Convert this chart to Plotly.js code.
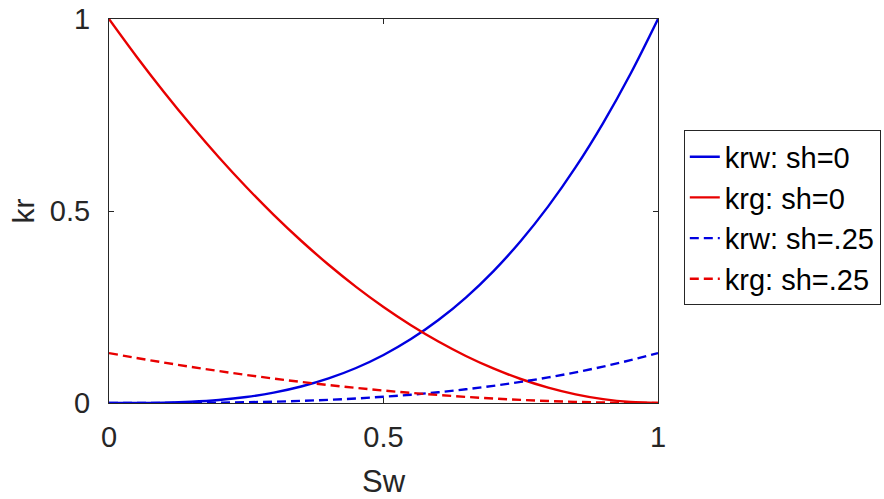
<!DOCTYPE html>
<html>
<head>
<meta charset="utf-8">
<script src="https://cdn.plot.ly/plotly-3.0.1.min.js"></script>
<style>html,body{margin:0;padding:0;background:#fff;}#chart{width:884px;height:499px;}</style>
</head>
<body>
<div id="chart"></div>
<script>
// Water saturation samples
const sw = [0, 0.05, 0.1, 0.15, 0.2, 0.25, 0.3, 0.35, 0.4, 0.45, 0.5, 0.55, 0.6, 0.65, 0.7, 0.75, 0.8, 0.85, 0.9, 0.95, 1];
// Values
const krwSh0 = [0, 0.0001, 0.001, 0.0034, 0.008, 0.0156, 0.027, 0.0429, 0.064, 0.0911, 0.125, 0.1664, 0.216, 0.2746, 0.343, 0.4219, 0.512, 0.6141, 0.729, 0.8574, 1];
const krgSh0 = [1, 0.9025, 0.81, 0.7225, 0.64, 0.5625, 0.49, 0.4225, 0.36, 0.3025, 0.25, 0.2025, 0.16, 0.1225, 0.09, 0.0625, 0.04, 0.0225, 0.01, 0.0025, 0];
const krwSh25 = [0, 0.00002, 0.0001, 0.0004, 0.001, 0.002, 0.0035, 0.0056, 0.0083, 0.0118, 0.0163, 0.0216, 0.0281, 0.0357, 0.0446, 0.0549, 0.0666, 0.0799, 0.0948, 0.1115, 0.13];
const krgSh25 = [0.13, 0.1173, 0.1053, 0.0939, 0.0832, 0.0731, 0.0637, 0.0549, 0.0468, 0.0393, 0.0325, 0.0263, 0.0208, 0.0159, 0.0117, 0.0081, 0.0052, 0.0029, 0.0013, 0.0003, 0];
const names = ['krw: sh=0', 'krg: sh=0', 'krw: sh=.25', 'krg: sh=.25'];

const BLUE = '#0000e0', RED = '#e80000';
const dash = '9px,5px';
const LW = 2.4;
const traces = [
  {x: sw, y: krwSh0, name: names[0], line: {color: BLUE, width: LW, shape: 'spline'}},
  {x: sw, y: krgSh0, name: names[1], line: {color: RED, width: LW, shape: 'spline'}},
  {x: sw, y: krwSh25, name: names[2], line: {color: BLUE, width: LW, dash: dash, shape: 'spline'}},
  {x: sw, y: krgSh25, name: names[3], line: {color: RED, width: LW, dash: dash, shape: 'spline'}}
].map(t => Object.assign({type: 'scatter', mode: 'lines', hoverinfo: 'skip'}, t));

const AX = '#262626';
const FONT = 'Liberation Sans, Arial, sans-serif';
const axisCommon = {
  range: [0, 1], tickvals: [0, 0.5, 1], ticktext: ['0', '0.5', '1'],
  showline: true, linecolor: AX, linewidth: 1, mirror: 'ticks',
  ticks: 'inside', ticklen: 5, tickcolor: AX, showgrid: false, zeroline: false,
  tickfont: {family: FONT, size: 29, color: AX}
};
const layout = {
  width: 884, height: 499,
  margin: {l: 109, r: 226, t: 19, b: 96, autoexpand: false},
  paper_bgcolor: '#fff', plot_bgcolor: '#fff',
  showlegend: true,
  xaxis: Object.assign({}, axisCommon, {
    ticklabelstandoff: 8,
    title: {text: 'Sw', font: {family: FONT, size: 31, color: AX}, standoff: 18}
  }),
  yaxis: Object.assign({}, axisCommon, {
    ticklabelstandoff: 12,
    title: {text: 'kr', font: {family: FONT, size: 30, color: AX}, standoff: 6}
  }),
  legend: {
    x: 1.047, y: 0.71, xanchor: 'left', yanchor: 'top',
    bordercolor: AX, borderwidth: 1, bgcolor: '#fff',
    font: {family: FONT, size: 29, color: '#000'},
    itemwidth: 30, tracegroupgap: 0
  }
};
Plotly.newPlot('chart', traces, layout, {displayModeBar: false, staticPlot: true});
</script>
</body>
</html>
